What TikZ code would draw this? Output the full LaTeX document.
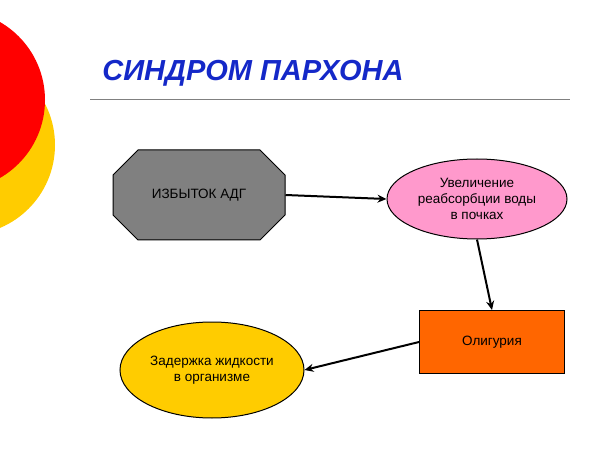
\documentclass[tikz,border=0pt]{standalone}
\usepackage{fontspec}
\setmainfont{Liberation Sans}
\usetikzlibrary{shapes.geometric,arrows.meta}
\definecolor{titleblue}{RGB}{20,40,200}
\definecolor{octgray}{RGB}{128,128,128}
\definecolor{pinkfill}{RGB}{255,153,204}
\definecolor{orangefill}{RGB}{255,102,0}
\definecolor{yellowfill}{RGB}{255,204,0}
\tikzstyle{box}=[draw=black, line width=1pt, font=\fontsize{13.5}{16}\selectfont, align=center, inner sep=0pt]
\tikzstyle{link}=[draw, line width=2pt, -{Stealth[length=9pt,width=8pt]}]

\begin{document}
\begin{tikzpicture}[x=1pt,y=-1pt]
\useasboundingbox (0,0) rectangle (600,449);
% background circles
\fill[yellowfill] (-35,145) circle (90);
\fill[red] (-45,100) circle (90);
% title
\node (title) at (253,73) {\fontsize{29}{34}\selectfont\bfseries\itshape\color{titleblue}СИНДРОМ ПАРХОНА};
\draw[gray, line width=1pt] (90,100) -- (570,100);
% nodes
\draw[black, line width=1pt, fill=octgray] (138,150) -- (260,150) -- (285,175) -- (285,215)
  -- (260,240) -- (138,240) -- (113,215) -- (113,175) -- cycle;
\node[box, draw=none, minimum width=172pt, minimum height=90pt] (adg) at (199,195) {ИЗБЫТОК АДГ};
\node[box, ellipse, fill=pinkfill, minimum width=180pt, minimum height=80pt] (reab) at (477,199)
      {Увеличение\\реабсорбции воды\\в почках};
\node[box, rectangle, fill=orangefill, minimum width=145pt, minimum height=63pt] (olig) at (492,342)
      {Олигурия};
\node[box, ellipse, fill=yellowfill, minimum width=184pt, minimum height=96pt] (zad) at (212,370)
      {Задержка жидкости\\в организме};
% connectors
\path[link] (adg.east) -- (reab.west);
\path[link] (reab.south) -- (olig.north);
\path[link] (olig.west) -- (zad.east);
\end{tikzpicture}
\end{document}
